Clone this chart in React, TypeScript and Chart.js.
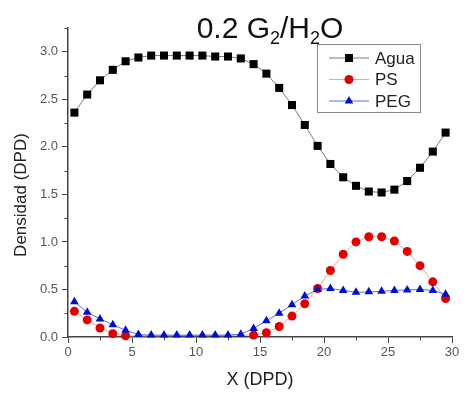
import React, { useEffect, useRef } from 'react';
import { Chart, registerables } from 'chart.js';

Chart.register(...registerables);

const FONT = '"Liberation Sans", Arial, Helvetica, sans-serif';

const xValues = [0.5, 1.5, 2.5, 3.5, 4.5, 5.5, 6.5, 7.5, 8.5, 9.5, 10.5, 11.5, 12.5, 13.5, 14.5, 15.5, 16.5, 17.5, 18.5, 19.5, 20.5, 21.5, 22.5, 23.5, 24.5, 25.5, 26.5, 27.5, 28.5, 29.5];
const agua = [2.36, 2.55, 2.70, 2.81, 2.90, 2.94, 2.96, 2.96, 2.96, 2.96, 2.96, 2.95, 2.95, 2.93, 2.87, 2.77, 2.62, 2.44, 2.23, 2.01, 1.82, 1.68, 1.59, 1.53, 1.52, 1.55, 1.64, 1.78, 1.95, 2.15];
// PS markers between x=5.5 and 13.5 are not visible in the reference (hidden on the axis)
const ps = [0.27, 0.18, 0.095, 0.035, 0.012, null, null, null, null, null, null, null, null, null, 0.02, 0.045, 0.11, 0.22, 0.35, 0.51, 0.70, 0.87, 1.00, 1.055, 1.055, 1.01, 0.90, 0.75, 0.58, 0.405];
const peg = [0.37, 0.26, 0.19, 0.13, 0.07, 0.025, 0.02, 0.02, 0.02, 0.02, 0.02, 0.02, 0.02, 0.03, 0.09, 0.17, 0.25, 0.34, 0.43, 0.50, 0.51, 0.49, 0.47, 0.475, 0.48, 0.49, 0.495, 0.50, 0.49, 0.45];

const seriesNames = ['Agua', 'PS', 'PEG'];
const yMinorTicks = [0.25, 0.75, 1.25, 1.75, 2.25, 2.75, 3.25];
const xMinorTicks = [2.5, 7.5, 12.5, 17.5, 22.5, 27.5];

const AXIS = '#444';

function drawMarker(ctx: CanvasRenderingContext2D, style: string, x: number, y: number, color: string) {
  ctx.fillStyle = color;
  ctx.beginPath();
  if (style === 'rect') {
    ctx.rect(x - 4, y - 4, 8, 8);
  } else if (style === 'circle') {
    ctx.arc(x, y, 4.5, 0, Math.PI * 2);
  } else {
    const r = 5;
    ctx.moveTo(x, y - r);
    ctx.lineTo(x + r * 0.866, y + r * 0.5);
    ctx.lineTo(x - r * 0.866, y + r * 0.5);
    ctx.closePath();
  }
  ctx.fill();
}

const decorPlugin = {
  id: 'decor',
  afterDraw(chart: any) {
    const ctx: CanvasRenderingContext2D = chart.ctx;
    const { left, top, bottom } = chart.chartArea;
    const xs = chart.scales.x;
    const ys = chart.scales.y;
    ctx.save();
    // minor ticks
    ctx.strokeStyle = AXIS;
    ctx.lineWidth = 1;
    ctx.beginPath();
    for (const v of yMinorTicks) {
      const py = Math.round(ys.getPixelForValue(v)) + 0.5;
      ctx.moveTo(left - 3.5, py);
      ctx.lineTo(left, py);
    }
    for (const v of xMinorTicks) {
      const px = Math.round(xs.getPixelForValue(v)) + 0.5;
      ctx.moveTo(px, bottom);
      ctx.lineTo(px, bottom + 3.5);
    }
    ctx.stroke();

    // y axis title
    ctx.save();
    ctx.translate(21, 195);
    ctx.rotate(-Math.PI / 2);
    ctx.font = `17px ${FONT}`;
    ctx.fillStyle = '#222';
    ctx.textAlign = 'center';
    ctx.textBaseline = 'middle';
    ctx.fillText('Densidad (DPD)', 0, 0);
    ctx.restore();

    // title with subscripts
    const parts: [string, boolean][] = [['0.2 G', false], ['2', true], ['/H', false], ['2', true], ['O', false]];
    const bigFont = `30px ${FONT}`;
    const smallFont = `18px ${FONT}`;
    let total = 0;
    for (const [t, sub] of parts) {
      ctx.font = sub ? smallFont : bigFont;
      total += ctx.measureText(t).width;
    }
    let cx = 270 - total / 2;
    const baseline = 38;
    ctx.fillStyle = '#111';
    ctx.textBaseline = 'alphabetic';
    ctx.textAlign = 'left';
    for (const [t, sub] of parts) {
      ctx.font = sub ? smallFont : bigFont;
      ctx.fillText(t, cx, sub ? baseline + 6 : baseline);
      cx += ctx.measureText(t).width;
    }

    // legend
    const lx = left + 249;
    const ly = top + 16;
    const lw = 103;
    const lh = 68;
    ctx.fillStyle = '#fff';
    ctx.fillRect(lx, ly, lw, lh);
    ctx.strokeStyle = '#888';
    ctx.lineWidth = 1;
    ctx.strokeRect(lx + 0.5, ly + 0.5, lw, lh);
    const ds = chart.data.datasets;
    ctx.font = `17px ${FONT}`;
    ctx.textBaseline = 'middle';
    for (let i = 0; i < ds.length; i++) {
      const y = ly + 14 + i * 21.5;
      ctx.strokeStyle = ds[i].borderColor;
      ctx.lineWidth = 1;
      ctx.beginPath();
      ctx.moveTo(lx + 12, y);
      ctx.lineTo(lx + 52, y);
      ctx.stroke();
      drawMarker(ctx, ds[i].pointStyle, lx + 32, y, ds[i].pointBackgroundColor);
      ctx.fillStyle = '#222';
      ctx.fillText(ds[i].label, lx + 58, y + 1);
    }
    ctx.restore();
  },
};

export default function App() {
  const ref = useRef<HTMLCanvasElement | null>(null);

  useEffect(() => {
    document.body.style.margin = '0';
    document.body.style.background = '#fff';
    if (!ref.current) return;
    const toPts = (arr: (number | null)[]) => xValues.map((x, i) => ({ x, y: arr[i] }));
    const chart = new Chart(ref.current, {
      type: 'line',
      data: {
        datasets: [
          {
            label: seriesNames[0],
            data: toPts(agua),
            borderColor: '#7a7a7a',
            borderWidth: 1,
            pointStyle: 'rect',
            pointRadius: 5.7,
            pointBackgroundColor: '#000',
            pointBorderWidth: 0,
            pointBorderColor: '#000',
            tension: 0,
            order: 3,
            clip: false,
          },
          {
            label: seriesNames[1],
            data: toPts(ps),
            borderColor: '#f4a0a0',
            borderWidth: 1,
            pointStyle: 'circle',
            pointRadius: 4.5,
            pointBackgroundColor: '#e00000',
            pointBorderWidth: 0,
            pointBorderColor: '#e00000',
            tension: 0,
            spanGaps: true,
            order: 2,
            clip: false,
          },
          {
            label: seriesNames[2],
            data: toPts(peg),
            borderColor: '#5a6af0',
            borderWidth: 1,
            pointStyle: 'triangle',
            pointRadius: 5,
            pointBackgroundColor: '#0010c8',
            pointBorderWidth: 0,
            pointBorderColor: '#0010c8',
            tension: 0,
            order: 1,
            clip: false,
          },
        ] as any,
      },
      options: {
        animation: false,
        responsive: false,
        maintainAspectRatio: false,
        layout: { padding: { top: 28, right: 13, left: 0, bottom: 0 } },
        plugins: {
          legend: { display: false },
          title: { display: false },
          tooltip: { enabled: false },
        },
        scales: {
          x: {
            type: 'linear',
            min: 0,
            max: 30,
            ticks: {
              stepSize: 5,
              color: '#555',
              font: { size: 13, family: FONT },
              padding: 2,
              maxRotation: 0,
            },
            grid: { drawOnChartArea: false, tickLength: 6, color: AXIS, tickWidth: 1 },
            border: { color: AXIS, width: 1.5 },
            title: {
              display: true,
              text: 'X (DPD)',
              color: '#222',
              font: { size: 18, family: FONT },
              padding: { top: 0, bottom: 3 },
            },
            afterFit: (s: any) => {
              s.height = 57;
            },
          },
          y: {
            type: 'linear',
            min: 0,
            max: 3.25,
            ticks: {
              stepSize: 0.5,
              includeBounds: false,
              color: '#555',
              font: { size: 13, family: FONT },
              padding: 4,
              callback: (v: any) => Number(v).toFixed(1),
            },
            grid: { drawOnChartArea: false, tickLength: 6, color: AXIS, tickWidth: 1 },
            border: { color: AXIS, width: 1.5 },
            title: { display: false },
            afterFit: (s: any) => {
              s.width = 68;
            },
          },
        },
      } as any,
      plugins: [decorPlugin],
    });
    return () => chart.destroy();
  }, []);

  return (
    <div style={{ width: 465, height: 394, background: '#fff' }}>
      <canvas ref={ref} width={465} height={394} />
    </div>
  );
}
